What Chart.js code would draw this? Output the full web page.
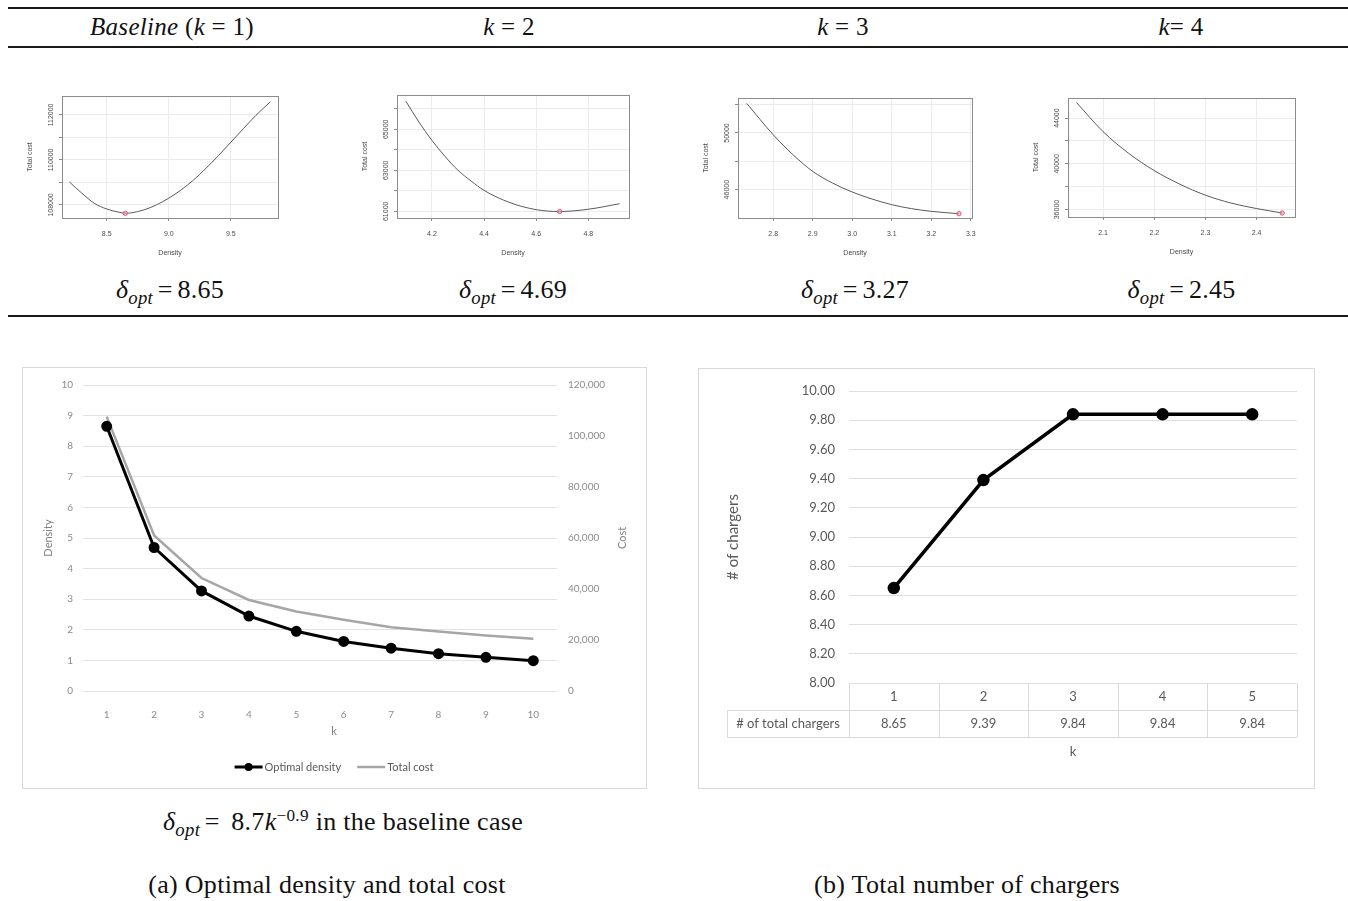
<!DOCTYPE html>
<html>
<head>
<meta charset="utf-8">
<script src="https://cdn.jsdelivr.net/npm/chart.js@4.4.1/dist/chart.umd.min.js"></script>
<style>
  body { margin: 0; width: 1348px; height: 901px; background: #fff; position: relative; overflow: hidden;
         font-family: "Liberation Serif", "Times New Roman", serif; color: #111; }
  .rule { position: absolute; left: 8px; right: 0; height: 2px; background: #1a1a1a; }
  .txt { position: absolute; transform: translateX(-50%); white-space: nowrap; font-size: 26px; line-height: 30px; letter-spacing: 0.3px; }
  .txt i { font-style: italic; }
  .txt sub { font-size: 0.72em; font-style: italic; vertical-align: -0.3em; line-height: 0; }
  .txt sup { font-size: 0.66em; vertical-align: 0.55em; line-height: 0; }
  .txt .eq { margin: 0 0.18em; }
  .hd { font-size: 25px; }
  .frame { position: absolute; border: 1px solid #d9d9d9; box-sizing: border-box; }
  canvas { position: absolute; }
</style>
</head>
<body>

<div class="rule" style="top:7px"></div>
<div class="rule" style="top:46px"></div>
<div class="rule" style="top:315px"></div>

<div class="txt hd" style="left:172px; top:12px"><i>Baseline</i> (<i>k</i> = 1)</div>
<div class="txt hd" style="left:509px; top:12px"><i>k</i> = 2</div>
<div class="txt hd" style="left:843px; top:12px"><i>k</i> = 3</div>
<div class="txt hd" style="left:1181px; top:12px"><i>k</i>= 4</div>

<div id="optLabels"></div>

<div class="frame" style="left:22px; top:367px; width:625px; height:422px"></div>
<div class="frame" style="left:698px; top:368px; width:617px; height:421px"></div>

<canvas id="densityChart" width="622" height="418" style="left:23px; top:368px"></canvas>
<canvas id="chargerChart" width="614" height="418" style="left:699px; top:369px"></canvas>

<div class="txt" style="left:343px; top:807px"><i>δ</i><sub>opt</sub><span class="eq">=</span>&nbsp;8.7<i>k</i><sup>−0.9</sup> in the baseline case</div>
<div class="txt" style="left:327px; top:870px">(a) Optimal density and total cost</div>
<div class="txt" style="left:967px; top:870px">(b) Total number of chargers</div>

<script>
// ---- top row: total cost vs density around the optimum, k = 1..4
const panelK = [1, 2, 3, 4];
const optDensity = [8.65, 4.69, 3.27, 2.45];
const optCost = [107630, 60990, 44305, 35700];

const densityK1 = [8.2, 8.3, 8.4, 8.5, 8.6, 8.65, 8.7, 8.8, 8.9, 9.0, 9.1, 9.2, 9.3, 9.4, 9.5, 9.6, 9.7, 9.82];
const costK1 = [109020, 108520, 108075, 107820, 107675, 107630, 107650, 107780, 108000, 108300, 108670, 109110, 109630, 110190, 110785, 111380, 111970, 112590];
const densityK2 = [4.1, 4.15, 4.2, 4.25, 4.3, 4.35, 4.4, 4.5, 4.6, 4.69, 4.8, 4.92];
const costK2 = [66370, 65355, 64460, 63680, 63000, 62480, 62020, 61420, 61080, 60990, 61100, 61370];
const densityK3 = [2.733, 2.8, 2.85, 2.9, 2.95, 3.0, 3.05, 3.1, 3.15, 3.2, 3.27];
const costK3 = [52090, 49880, 48470, 47290, 46470, 45835, 45340, 44940, 44660, 44470, 44305];
const densityK4 = [2.048, 2.1, 2.15, 2.2, 2.25, 2.3, 2.35, 2.4, 2.45];
const costK4 = [45370, 42820, 40920, 39410, 38220, 37260, 36570, 36090, 35700];

const xTicksK1 = [8.5, 9.0, 9.5];
const xTicksK2 = [4.2, 4.4, 4.6, 4.8];
const xTicksK3 = [2.8, 2.9, 3.0, 3.1, 3.2, 3.3];
const xTicksK4 = [2.1, 2.2, 2.3, 2.4];
const yTicksK1 = [108000, 109000, 110000, 111000, 112000];
const yTicksK2 = [61000, 62000, 63000, 64000, 65000, 66000];
const yTicksK3 = [46000, 48000, 50000, 52000];
const yTicksK4 = [36000, 38000, 40000, 42000, 44000];
const yLabelsK1 = [108000, 110000, 112000];
const yLabelsK2 = [61000, 63000, 65000];
const yLabelsK3 = [46000, 50000];
const yLabelsK4 = [36000, 40000, 44000];

// ---- bottom left: optimal density and total cost by k
const kValues = ['1', '2', '3', '4', '5', '6', '7', '8', '9', '10'];
const optimalDensity = [8.65, 4.69, 3.27, 2.45, 1.95, 1.62, 1.40, 1.22, 1.10, 0.99];
const totalCost = [107600, 61000, 44300, 35700, 31200, 27900, 25000, 23300, 21800, 20500];
const densityTicks = [0, 1, 2, 3, 4, 5, 6, 7, 8, 9, 10];
const costTicks = [0, 20000, 40000, 60000, 80000, 100000, 120000];

// ---- bottom right: total number of chargers
const chargerK = ['1', '2', '3', '4', '5'];
const totalChargers = [8.65, 9.39, 9.84, 9.84, 9.84];
const chargerTicks = [8.0, 8.2, 8.4, 8.6, 8.8, 9.0, 9.2, 9.4, 9.6, 9.8, 10.0];

Chart.defaults.animation = false;
Chart.defaults.responsive = false;
Chart.defaults.devicePixelRatio = 1;
Chart.defaults.plugins.legend.display = false;
Chart.defaults.plugins.tooltip.enabled = false;

const fixedTicks = arr => scale => { scale.ticks = arr.map(v => ({ value: v })); };
const fixedSize = (prop, px) => scale => { scale[prop] = px; };

// R-style frame, ticks labels and titles for the small panels
const rPanel = {
  id: 'rPanel',
  afterDraw(chart, args, opts) {
    const { ctx, chartArea: a, scales: { x, y } } = chart;
    ctx.save();
    ctx.strokeStyle = '#8c8c8c';
    ctx.lineWidth = 1;
    ctx.strokeRect(Math.round(a.left) + 0.5, Math.round(a.top) + 0.5, Math.round(a.right - a.left), Math.round(a.bottom - a.top));
    ctx.fillStyle = '#4a4a4a';
    ctx.font = '7px "Liberation Sans", Arial, sans-serif';
    ctx.textAlign = 'center';
    ctx.textBaseline = 'middle';
    opts.xLabels.forEach(v => ctx.fillText(v.toFixed(1), x.getPixelForValue(v), a.bottom + 16));
    ctx.fillText('Density', (a.left + a.right) / 2, a.bottom + 35);
    opts.yLabels.forEach(v => {
      ctx.save();
      ctx.translate(a.left - 11, y.getPixelForValue(v));
      ctx.rotate(-Math.PI / 2);
      ctx.fillText(String(v), 0, 0);
      ctx.restore();
    });
    ctx.translate(a.left - 32, (a.top + a.bottom) / 2);
    ctx.rotate(-Math.PI / 2);
    ctx.fillText('Total cost', 0, 0);
    ctx.restore();
  }
};

const panels = [
  { d: densityK1, c: costK1, xt: xTicksK1, yt: yTicksK1, yl: yLabelsK1, x: [8.14, 9.88], y: [107420, 112840], box: [62, 96, 278, 218] },
  { d: densityK2, c: costK2, xt: xTicksK2, yt: yTicksK2, yl: yLabelsK2, x: [4.066, 4.956], y: [60673, 66673], box: [397, 95, 629, 218] },
  { d: densityK3, c: costK3, xt: xTicksK3, yt: yTicksK3, yl: yLabelsK3, x: [2.711, 3.303], y: [44000, 52470], box: [738, 98, 972, 218] },
  { d: densityK4, c: costK4, xt: xTicksK4, yt: yTicksK4, yl: yLabelsK4, x: [2.0315, 2.475], y: [35350, 45760], box: [1068, 98, 1295, 217] },
];

const labelHost = document.getElementById('optLabels');

panels.forEach((p, i) => {
  const [L, T, R, B] = p.box;
  const cv = document.createElement('canvas');
  cv.width = R - L + 57;
  cv.height = B - T + 55;
  cv.style.left = (L - 45) + 'px';
  cv.style.top = (T - 10) + 'px';
  document.body.appendChild(cv);

  new Chart(cv, {
    type: 'scatter',
    data: {
      datasets: [
        {
          data: [{ x: optDensity[i], y: optCost[i] }],
          pointRadius: 2.2,
          pointBorderWidth: 1,
          pointBorderColor: '#e0607a',
          pointBackgroundColor: 'rgba(240,150,165,0.6)',
        },
        {
          data: p.d.map((d, j) => ({ x: d, y: p.c[j] })),
          showLine: true,
          borderColor: '#5a5a5a',
          borderWidth: 1,
          pointRadius: 0,
          cubicInterpolationMode: 'monotone',
        },
      ],
    },
    options: {
      layout: { padding: { top: 10, right: 12, left: 0, bottom: 0 } },
      scales: {
        x: {
          type: 'linear', min: p.x[0], max: p.x[1],
          afterBuildTicks: fixedTicks(p.xt),
          afterFit: fixedSize('height', 45),
          ticks: { display: false },
          grid: { color: '#ebebeb', tickLength: 3, tickColor: '#8c8c8c' },
          border: { display: false },
        },
        y: {
          type: 'linear', min: p.y[0], max: p.y[1],
          afterBuildTicks: fixedTicks(p.yt),
          afterFit: fixedSize('width', 45),
          ticks: { display: false },
          grid: { color: '#ebebeb', tickLength: 3, tickColor: '#8c8c8c' },
          border: { display: false },
        },
      },
      plugins: { rPanel: { xLabels: p.xt, yLabels: p.yl } },
    },
    plugins: [rPanel],
  });

  const lab = document.createElement('div');
  lab.className = 'txt';
  lab.style.left = ((L + R) / 2) + 'px';
  lab.style.top = '275px';
  lab.innerHTML = '<i>δ</i><sub>opt</sub><span class="eq">=</span>' + optDensity[i].toFixed(2);
  labelHost.appendChild(lab);
});

const excelFont = '"Lato", "Open Sans", sans-serif';

// secondary title, x title and the legend for the density / cost chart
const densityDecor = {
  id: 'densityDecor',
  afterDraw(chart) {
    const { ctx, chartArea: a } = chart;
    ctx.save();
    ctx.fillStyle = '#7f7f7f';
    ctx.textBaseline = 'middle';
    ctx.textAlign = 'center';
    ctx.font = '11px ' + excelFont;
    ctx.fillText('k', chart.width / 2, a.bottom + 40);

    ctx.save();
    ctx.translate(a.right + 65, (a.top + a.bottom) / 2);
    ctx.rotate(-Math.PI / 2);
    ctx.fillText('Cost', 0, 0);
    ctx.restore();

    ctx.font = '11px ' + excelFont;
    const sw = 28, gap = 2, between = 16;
    const items = chart.data.datasets.map(ds => ({ ds, w: ctx.measureText(ds.label).width }));
    const total = items.reduce((s, it) => s + sw + gap + it.w, 0) + between * (items.length - 1);
    let x = chart.width / 2 - total / 2;
    const ly = a.bottom + 76;
    ctx.textAlign = 'left';
    items.forEach(({ ds, w }) => {
      ctx.strokeStyle = ds.borderColor;
      ctx.lineWidth = ds.borderWidth;
      ctx.beginPath();
      ctx.moveTo(x, ly);
      ctx.lineTo(x + sw, ly);
      ctx.stroke();
      if (ds.pointRadius > 0) {
        ctx.fillStyle = ds.pointBackgroundColor;
        ctx.beginPath();
        ctx.arc(x + sw / 2, ly, ds.pointRadius, 0, Math.PI * 2);
        ctx.fill();
      }
      ctx.fillStyle = '#595959';
      ctx.fillText(ds.label, x + sw + gap, ly);
      x += sw + gap + w + between;
    });
    ctx.restore();
  }
};

new Chart(document.getElementById('densityChart'), {
  type: 'line',
  data: {
    labels: kValues,
    datasets: [
      {
        label: 'Optimal density',
        data: optimalDensity,
        yAxisID: 'y',
        borderColor: '#000',
        borderWidth: 3,
        pointRadius: 4,
        pointBackgroundColor: '#000',
        pointBorderColor: '#000',
        tension: 0,
      },
      {
        label: 'Total cost',
        data: totalCost,
        yAxisID: 'y1',
        borderColor: '#a6a6a6',
        borderWidth: 2.5,
        pointRadius: 0,
        tension: 0,
      },
    ],
  },
  options: {
    layout: { padding: { top: 14, left: 0, right: 0, bottom: 0 } },
    scales: {
      x: {
        offset: true,
        afterFit: fixedSize('height', 95),
        grid: { display: false, offset: true },
        border: { display: false },
        ticks: { color: '#8c8c8c', font: { family: excelFont, size: 10 }, padding: 10, maxRotation: 0 },
      },
      y: {
        position: 'left', min: 0, max: 10,
        afterBuildTicks: fixedTicks(densityTicks),
        afterFit: fixedSize('width', 60),
        grid: { color: '#e3e3e3', drawTicks: false },
        border: { display: false },
        ticks: { color: '#8c8c8c', font: { family: excelFont, size: 10 }, padding: 10 },
        title: { display: true, text: 'Density', color: '#7f7f7f', font: { family: excelFont, size: 11 }, padding: { top: 19, bottom: 0 } },
      },
      y1: {
        position: 'right', min: 0, max: 120000,
        afterBuildTicks: fixedTicks(costTicks),
        afterFit: fixedSize('width', 88),
        grid: { drawOnChartArea: false, drawTicks: false },
        border: { display: false },
        ticks: { color: '#8c8c8c', font: { family: excelFont, size: 10 }, padding: 11, callback: v => v.toLocaleString('en-US') },
      },
    },
  },
  plugins: [densityDecor],
});

// data table under the chargers chart
const chargerTable = {
  id: 'chargerTable',
  afterDraw(chart) {
    const { ctx, chartArea: a, scales: { x } } = chart;
    const n = chart.data.labels.length;
    const cw = (a.right - a.left) / n;
    const rowH = 27;
    const top = Math.round(a.bottom) + 0.5;
    const headLeft = a.left - 122;
    ctx.save();
    ctx.strokeStyle = '#d9d9d9';
    ctx.lineWidth = 1;
    ctx.beginPath();
    ctx.moveTo(headLeft, top + rowH); ctx.lineTo(a.right, top + rowH);
    ctx.moveTo(headLeft, top + 2 * rowH); ctx.lineTo(a.right, top + 2 * rowH);
    ctx.moveTo(Math.round(headLeft) + 0.5, top + rowH); ctx.lineTo(Math.round(headLeft) + 0.5, top + 2 * rowH);
    for (let i = 0; i <= n; i++) {
      const bx = Math.round(a.left + i * cw) + 0.5;
      ctx.moveTo(bx, top); ctx.lineTo(bx, top + 2 * rowH);
    }
    ctx.stroke();

    ctx.fillStyle = '#595959';
    ctx.font = '13px ' + excelFont;
    ctx.textAlign = 'center';
    ctx.textBaseline = 'middle';
    chart.data.labels.forEach((lab, i) => {
      const px = x.getPixelForValue(i);
      ctx.fillText(lab, px, top + rowH / 2);
      ctx.fillText(chart.data.datasets[0].data[i].toFixed(2), px, top + rowH * 1.5);
    });
    ctx.fillText(chart.data.datasets[0].label, (headLeft + a.left) / 2, top + rowH * 1.5);
    ctx.fillText('k', (a.left + a.right) / 2, a.bottom + 69);
    ctx.restore();
  }
};

new Chart(document.getElementById('chargerChart'), {
  type: 'line',
  data: {
    labels: chargerK,
    datasets: [{
      label: '# of total chargers',
      data: totalChargers,
      borderColor: '#000',
      borderWidth: 3.5,
      pointRadius: 4.5,
      pointBackgroundColor: '#000',
      pointBorderColor: '#000',
      tension: 0,
    }],
  },
  options: {
    layout: { padding: { top: 22, left: 0, right: 16, bottom: 0 } },
    scales: {
      x: {
        offset: true,
        afterFit: fixedSize('height', 104),
        grid: { display: false, offset: true },
        border: { display: false },
        ticks: { display: false },
      },
      y: {
        min: 8, max: 10,
        afterBuildTicks: fixedTicks(chargerTicks),
        afterFit: fixedSize('width', 150),
        grid: { color: '#dedede', drawTicks: false },
        border: { display: false },
        ticks: { color: '#595959', font: { family: excelFont, size: 13 }, padding: 14, callback: v => v.toFixed(2) },
        title: { display: true, text: '# of chargers', color: '#595959', font: { family: excelFont, size: 15 }, padding: { top: 25, bottom: 0 } },
      },
    },
  },
  plugins: [chargerTable],
});
</script>
</body>
</html>
